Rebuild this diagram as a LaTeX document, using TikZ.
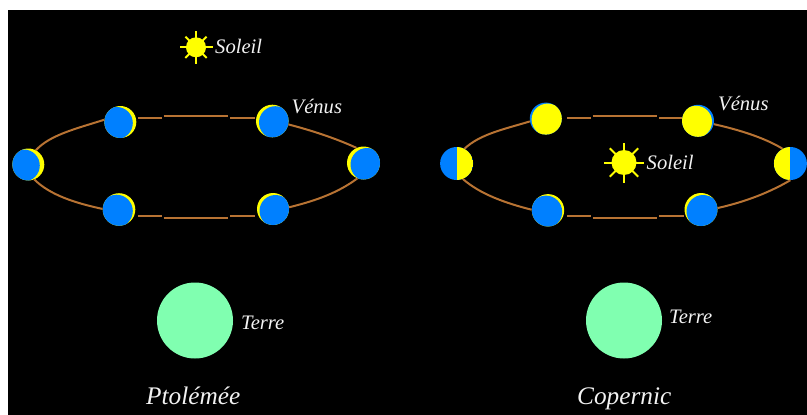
\documentclass[tikz,border=0pt]{standalone}
\usepackage{fontspec}
\setmainfont{Liberation Serif}
\usetikzlibrary{calc}
\definecolor{venusblue}{HTML}{0080FF}
\definecolor{lit}{HTML}{FFFF00}
\definecolor{orbitbrown}{HTML}{B87333}
\definecolor{earthgreen}{HTML}{80FFB0}
\definecolor{labelwhite}{HTML}{F2F2F2}
\tikzset{
  % a thin lit crescent: yellow disc with an offset blue disc laid inside it
  crescent/.style args={#1 and #2}{circle,inner sep=0pt,minimum size=#1,fill=lit,path picture={
    \fill[venusblue] ($(path picture bounding box.center)+(#2)$) circle[radius=0.5*#1];}},
  % a gibbous phase: blue disc with an offset yellow disc laid inside it
  gibbous/.style args={#1 and #2}{circle,inner sep=0pt,minimum size=#1,fill=venusblue,path picture={
    \fill[lit] ($(path picture bounding box.center)+(#2)$) circle[radius=0.5*#1];}},
  halfdisc/.style={circle,inner sep=0pt,minimum size=33pt,fill=venusblue,path picture={
    \fill[lit] (path picture bounding box.south) rectangle (path picture bounding box.north #1);}},
  earthdisc/.style={circle,fill=earthgreen,inner sep=0pt,minimum size=76pt},
  sundisc/.style={circle,fill=lit,inner sep=0pt,minimum size=#1},
  orbit/.style={draw=orbitbrown,line width=2pt},
  sunray/.style={draw=lit,line width=2pt},
  smalllabel/.style={anchor=base west,inner sep=0pt,text=labelwhite,font=\fontsize{20.6}{24}\selectfont\itshape},
  biglabel/.style={anchor=base west,inner sep=0pt,text=labelwhite,font=\fontsize{25.3}{30}\selectfont\itshape}
}
\begin{document}
\begin{tikzpicture}[x=1pt,y=-1pt]
\useasboundingbox (0,0) rectangle (807,415);
\fill[white] (0,0) rectangle (807,415);
\fill[black] (8,10) rectangle (807,415);

% Ptolemy: Venus always between Earth and Sun, only a thin crescent lit
\node[crescent={32pt and -4.5,1}] (pa) at (28.3,164.5) {};
\node[crescent={32pt and -3.5,1}] (pb) at (120.3,122) {};
\node[crescent={32.6pt and 3,1.5}] (pc) at (272.3,121) {};
\node[crescent={33pt and 3.5,1.5}] (pd) at (363.5,163) {};
\node[crescent={32.6pt and -2.5,1.5}] (pe) at (119,209.5) {};
\node[crescent={32pt and 2.5,2}] (pf) at (273,209) {};

\draw[orbit] (pa.62) .. controls (50,135) and (75,129) .. (pb.172);
\draw[orbit] (pc.-12) .. controls (310,130) and (335,138) .. (pd.115);
\draw[orbit] (pa.-68) .. controls (50,195) and (75,203) .. (pe.178);
\draw[orbit] (pf.6) .. controls (310,202) and (335,195) .. (pd.-112);

\coordinate (pt1) at (162,117.5);
\coordinate (pt2) at (163.5,115.5);
\coordinate (pt3) at (228,115.5);
\coordinate (pt4) at (230,117.5);
\coordinate (pb1) at (162,215.5);
\coordinate (pb2) at (163.5,217.5);
\coordinate (pb3) at (228,217.5);
\coordinate (pb4) at (230,215.5);
\draw[orbit] (138,117.5) -- (pt1);
\draw[orbit] (pt2) -- (pt3);
\draw[orbit] (pt4) -- (255,117.5);
\draw[orbit] (138,215.5) -- (pb1);
\draw[orbit] (pb2) -- (pb3);
\draw[orbit] (pb4) -- (255,215.5);

\node[sundisc=20pt] (ps) at (196,47.3) {};
\foreach \a in {0,90,180,270}
  \draw[sunray] ($(ps)+(\a:9)$) -- ($(ps)+(\a:16.5)$);
\foreach \a in {45,135,225,315}
  \draw[sunray] ($(ps)+(\a:9)$) -- ($(ps)+(\a:15)$);

\node[smalllabel] (psl) at (215,53) {Soleil};
\node[smalllabel] (pvl) at (291.5,113) {Vénus};
\node[earthdisc] (pt) at (195,320.5) {};
\node[smalllabel] (ptl) at (241,329) {Terre};
\node[biglabel] (pn) at (146,404) {Ptolémée};

% Copernicus: Venus circles the Sun and shows every phase
\node[halfdisc=east] (ca) at (456.6,163.5) {};
\node[halfdisc=west] (cd) at (790.4,163.5) {};
\node[gibbous={32pt and 1.8,1}] (cb) at (545.8,118.6) {};
\node[gibbous={32pt and -2,1}] (cc) at (698,120.8) {};
\node[crescent={32.4pt and -2,1.5}] (ce) at (548,210.3) {};
\node[crescent={33pt and 2,2}] (cf) at (701,209.5) {};

\draw[orbit] (ca.62) .. controls (480,134) and (505,129) .. (cb.190);
\draw[orbit] (cc.-12) .. controls (740,130) and (765,138) .. (cd.118);
\draw[orbit] (ca.-68) .. controls (480,194) and (505,203) .. (ce.178);
\draw[orbit] (cf.5) .. controls (740,203) and (765,195) .. (cd.-90);

\coordinate (ct1) at (591,117.5);
\coordinate (ct2) at (592.7,115.5);
\coordinate (ct3) at (657.3,115.5);
\coordinate (ct4) at (659,117.5);
\coordinate (cb1) at (591,215.5);
\coordinate (cb2) at (592.7,217.5);
\coordinate (cb3) at (657.3,217.5);
\coordinate (cb4) at (659,215.5);
\draw[orbit] (567,117.5) -- (ct1);
\draw[orbit] (ct2) -- (ct3);
\draw[orbit] (ct4) -- (681.7,117.5);
\draw[orbit] (567,215.5) -- (cb1);
\draw[orbit] (cb2) -- (cb3);
\draw[orbit] (cb4) -- (684,215.5);

\node[sundisc=25pt] (cs) at (624,162.5) {};
\foreach \a in {0,90,180,270}
  \draw[sunray] ($(cs)+(\a:11)$) -- ($(cs)+(\a:20)$);
\foreach \a in {45,135,225,315}
  \draw[sunray] ($(cs)+(\a:11)$) -- ($(cs)+(\a:20)$);

\node[smalllabel] (csl) at (646.5,169) {Soleil};
\node[smalllabel] (cvl) at (718,110.7) {Vénus};
\node[earthdisc] (ct) at (624,320.5) {};
\node[smalllabel] (ctl) at (669,323) {Terre};
\node[biglabel] (cn) at (577,404) {Copernic};
\end{tikzpicture}
\end{document}
